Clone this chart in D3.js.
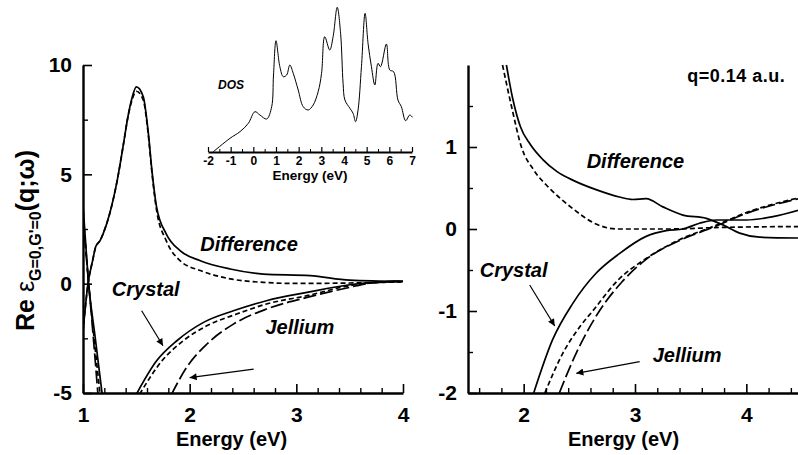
<!DOCTYPE html>
<html><head><meta charset="utf-8">
<script src="https://cdn.jsdelivr.net/npm/d3@7"></script>
<style>
body{margin:0;background:#fff}
svg{display:block}
text{font-family:"Liberation Sans",Arial,Helvetica,sans-serif;font-weight:bold;fill:#000}
</style></head>
<body>
<svg id="chart" width="798" height="455"></svg>
<script>
// ---------- DATA (energy eV, Re epsilon) ----------
// Left panel
const leftCrystalLow   = [[1.0,3.6],[1.02,2.2],[1.053,0],[1.11,-2.3],[1.18,-5.06]];
const leftCrystalDLow  = [[1.0,3.3],[1.053,0],[1.10,-2.3],[1.16,-5.06]];
const leftJelliumLow   = [[1.0,3.0],[1.053,0],[1.094,-2.3],[1.14,-5.06]];
const leftDiffSolid = [[1.0,-2.2],[1.047,0],[1.09,1.05],[1.12,1.7],[1.16,1.97],[1.19,2.3],[1.25,3.2],[1.32,4.7],[1.38,6.4],[1.42,7.6],[1.46,8.5],[1.50,9.0],[1.565,8.55],[1.61,7.0],[1.65,5.0],[1.69,3.5],[1.78,2.28],[1.91,1.51],[2.10,1.05],[2.38,0.67],[2.69,0.44],[3.13,0.37],[3.5,0.16],[4.0,0.1]];
const leftDiffDash  = [[1.0,-2.2],[1.047,0],[1.09,1.05],[1.12,1.7],[1.16,1.97],[1.19,2.3],[1.25,3.2],[1.32,4.7],[1.38,6.4],[1.42,7.6],[1.46,8.4],[1.50,8.8],[1.565,8.4],[1.61,6.9],[1.65,4.9],[1.69,3.35],[1.78,1.97],[1.91,1.05],[2.10,0.6],[2.38,0.22],[2.69,0.06],[3.0,0.01],[3.5,0.03],[4.0,0.08]];
const leftCrystal   = [[1.50,-5.06],[1.69,-3.53],[1.88,-2.61],[2.13,-1.77],[2.41,-1.24],[2.72,-0.78],[3.10,-0.40],[3.50,-0.05],[3.7,0.05],[4.0,0.12]];
const leftCrystalD  = [[1.53,-5.06],[1.74,-3.53],[1.94,-2.61],[2.16,-1.93],[2.44,-1.39],[2.72,-0.93],[3.10,-0.55],[3.50,-0.09],[3.7,0.03],[4.0,0.1]];
const leftJellium   = [[1.83,-5.06],[1.97,-3.84],[2.16,-2.77],[2.41,-1.85],[2.72,-1.16],[3.10,-0.63],[3.50,-0.17],[3.7,0.03],[4.0,0.12]];
// Right panel (q = 0.14 a.u.)
const rightDiffSolid = [[1.845,2.0],[1.90,1.6],[1.97,1.25],[2.06,1.03],[2.17,0.85],[2.30,0.70],[2.45,0.59],[2.65,0.48],[2.86,0.39],[2.98,0.36],[3.10,0.37],[3.25,0.27],[3.43,0.17],[3.64,0.13],[3.79,0.05],[3.94,-0.05],[4.12,-0.10],[4.5,-0.11]];
const rightDiffDash  = [[1.81,2.0],[1.89,1.5],[1.98,1.0],[2.09,0.72],[2.23,0.5],[2.44,0.25],[2.65,0.06],[2.85,0.0],[3.3,0.0],[3.8,0.02],[4.5,0.03]];
const rightCrystal   = [[2.09,-2.0],[2.26,-1.35],[2.44,-0.91],[2.65,-0.54],[2.86,-0.30],[3.10,-0.09],[3.28,-0.02],[3.43,0.0],[3.58,0.07],[3.73,0.11],[4.0,0.11],[4.24,0.15],[4.5,0.24]];
const rightCrystalD  = [[2.19,-2.0],[2.35,-1.52],[2.50,-1.2],[2.62,-1.0],[2.85,-0.62],[3.10,-0.36],[3.40,-0.13],[3.70,0.03],[4.0,0.2],[4.5,0.39]];
const rightJellium   = [[2.32,-2.0],[2.47,-1.52],[2.68,-1.0],[2.88,-0.65],[3.10,-0.37],[3.40,-0.14],[3.70,0.02],[4.0,0.19],[4.5,0.38]];
// Inset: density of states (arb. units)
const dosE = [-1.78,-1.03,-0.59,-0.22,0.07,0.29,0.59,0.81,0.89,1.0,1.17,1.32,1.47,1.61,1.76,1.98,2.2,2.42,2.64,2.86,3.01,3.15,3.37,3.52,3.70,3.85,3.96,4.04,4.26,4.40,4.51,4.62,4.77,4.93,5.06,5.21,5.36,5.50,5.61,5.87,6.02,6.19,6.38,6.53,6.72,6.90,7.02];
const dosV = [0,1.37,2.03,2.87,4.03,3.7,3.3,4.53,7.7,11.13,8.53,7.53,7.7,8.7,7.87,6.2,4.53,4.2,4.7,6.03,7.87,11.53,10.2,11.53,14.47,11.87,6.87,5.2,4.37,3.87,3.03,4.2,8.53,13.87,10.87,8.53,6.7,8.87,8.53,10.8,8.2,8.03,5.2,4.53,3.13,3.7,3.47];
// Ticks
const leftXTicks = [1,2,3,4], leftYTicks = [-5,0,5,10], leftYMinor = [-2.5,2.5,7.5];
const rightXTicks = [2,3,4], rightYTicks = [-2,-1,0,1], rightYMinor = [-1.5,-0.5,0.5,1.5];
const insetTicks = [-2,-1,0,1,2,3,4,5,6,7];

// ---------- SCALES ----------
const svg = d3.select("#chart");
const xL = d3.scaleLinear([1,4],[83,403]);
const yL = d3.scaleLinear([-5,10],[393,65]);
const xR = d3.scaleLinear([1.5,4.5],[468,802]);
const yR = d3.scaleLinear([-2,2],[393,65]);
const xI = d3.scaleLinear([-2,7],[208,412]);
const yI = d3.scaleLinear([0,15],[152,2]);
const fmt = d => String(d);

const defs = svg.append("defs");
defs.append("clipPath").attr("id","clipL").append("rect").attr("x",83).attr("y",0).attr("width",321).attr("height",393);
defs.append("clipPath").attr("id","clipR").append("rect").attr("x",468).attr("y",60).attr("width",340).attr("height",333);
defs.append("marker").attr("id","arrow").attr("viewBox","0 0 10 10").attr("refX",10).attr("refY",5)
  .attr("markerWidth",11).attr("markerHeight",7).attr("markerUnits","userSpaceOnUse").attr("orient","auto")
  .append("path").attr("d","M0,0L10,5L0,10z").attr("fill","#000");

const styles = {solid:null, short:"5,3", long:"13,4"};
function curve(g, data, x, y, dash, w){
  g.append("path").datum(data)
   .attr("d", d3.line().x(d=>x(d[0])).y(d=>y(d[1])).curve(d3.curveMonotoneX))
   .attr("fill","none").attr("stroke","#000").attr("stroke-width",w||1.7)
   .attr("stroke-dasharray",dash);
}
function minorRange(a,b,step,skip){const r=[];for(let v=a;v<=b+1e-9;v+=step){const q=Math.round(v*100)/100;if(!skip.some(s=>Math.abs(s-q)<1e-6))r.push(q);}return r;}

function axes(x,y,xt,yt,ym,xMinor,bottom,left){
  svg.append("g").attr("transform",`translate(0,${bottom})`)
    .call(d3.axisBottom(x).tickValues(xMinor).tickSize(-5).tickFormat(""))
    .call(g=>g.select(".domain").remove()).selectAll("line").attr("stroke-width",1.4);
  svg.append("g").attr("transform",`translate(${left},0)`)
    .call(d3.axisLeft(y).tickValues(ym).tickSize(-5).tickFormat(""))
    .call(g=>g.select(".domain").remove()).selectAll("line").attr("stroke-width",1.4);
  const gx = svg.append("g").attr("transform",`translate(0,${bottom})`)
    .call(d3.axisBottom(x).tickValues(xt).tickSize(-9).tickSizeOuter(0).tickPadding(14).tickFormat(fmt));
  const gy = svg.append("g").attr("transform",`translate(${left},0)`)
    .call(d3.axisLeft(y).tickValues(yt).tickSize(-9).tickSizeOuter(0).tickPadding(11).tickFormat(fmt));
  [gx,gy].forEach(g=>{
    g.select(".domain").attr("stroke-width",2.4);
    g.selectAll(".tick line").attr("stroke-width",1.6);
    g.selectAll("text").style("font-size","21px").style("font-family","Liberation Sans, Arial, sans-serif").style("font-weight","bold");
  });
  gx.selectAll("text").attr("dy","0.72em");
}

// ---------- LEFT PANEL ----------
axes(xL,yL,leftXTicks,leftYTicks,leftYMinor,minorRange(1.2,3.8,0.2,leftXTicks),393,83);
const gL = svg.append("g").attr("clip-path","url(#clipL)");
curve(gL,leftCrystalLow,xL,yL,styles.solid);
curve(gL,leftCrystalDLow,xL,yL,styles.short);
curve(gL,leftJelliumLow,xL,yL,styles.long);
curve(gL,leftDiffSolid,xL,yL,styles.solid);
curve(gL,leftDiffDash,xL,yL,styles.short);
curve(gL,leftCrystal,xL,yL,styles.solid);
curve(gL,leftCrystalD,xL,yL,styles.short);
curve(gL,leftJellium,xL,yL,styles.long);

function label(txt,x,y,size,italic){
  return svg.append("text").attr("x",x).attr("y",y).text(txt)
    .style("font-size",size+"px").style("font-style",italic?"italic":"normal");
}
function arrow(x1,y1,x2,y2){
  svg.append("line").attr("x1",x1).attr("y1",y1).attr("x2",x2).attr("y2",y2)
    .attr("stroke","#000").attr("stroke-width",1.2).attr("marker-end","url(#arrow)");
}
label("Difference",xL(2.10),yL(1.51),20,true);
label("Crystal",xL(1.27),yL(-0.55),20,true);
arrow(xL(1.55),yL(-1.24),xL(1.75),yL(-2.84));
label("Jellium",xL(2.71),yL(-2.29),20,true);
arrow(xL(2.60),yL(-3.91),xL(2.0),yL(-4.30));

label("Energy (eV)",231.5,446,20,false).attr("text-anchor","middle");

// Y label
const yl = svg.append("text").attr("transform","translate(34,331) rotate(-90)").style("font-size","25px");
yl.append("tspan").text("Re ");
yl.append("tspan").text("ε").style("font-weight","normal");
yl.append("tspan").text("G=0,G'=0").style("font-size","16px").attr("dy",7);
yl.append("tspan").text("(q;ω)").attr("dy",-7);

// ---------- INSET (DOS) ----------
const dos = dosE.map((e,i)=>[e,dosV[i]]);
svg.append("path").datum(dos)
  .attr("d",d3.line().x(d=>xI(d[0])).y(d=>yI(d[1])).curve(d3.curveCatmullRom.alpha(0.5)))
  .attr("fill","none").attr("stroke","#000").attr("stroke-width",1);
svg.append("g").attr("transform","translate(0,152)")
  .call(d3.axisBottom(xI).tickValues(minorRange(-1.5,6.5,1,[])).tickSize(-3).tickFormat(""))
  .call(g=>g.select(".domain").remove()).selectAll("line").attr("stroke-width",1);
const gi = svg.append("g").attr("transform","translate(0,152)")
  .call(d3.axisBottom(xI).tickValues(insetTicks).tickSize(-5).tickSizeOuter(0).tickPadding(4).tickFormat(fmt));
gi.select(".domain").attr("stroke-width",1.8);
gi.selectAll(".tick line").attr("stroke-width",1.2);
gi.selectAll("text").style("font-size","12px").style("font-family","Liberation Sans, Arial, sans-serif").style("font-weight","bold").attr("dy","0.72em");
label("Energy (eV)",xI(2.5),180,13.5,false).attr("text-anchor","middle");
label("DOS",xI(-1.56),yI(6.3),12,true);

// ---------- RIGHT PANEL ----------
axes(xR,yR,rightXTicks,rightYTicks,rightYMinor,minorRange(1.6,4.4,0.2,rightXTicks),393,468);
const gR = svg.append("g").attr("clip-path","url(#clipR)");
curve(gR,rightDiffSolid,xR,yR,styles.solid);
curve(gR,rightDiffDash,xR,yR,styles.short);
curve(gR,rightCrystal,xR,yR,styles.solid);
curve(gR,rightCrystalD,xR,yR,styles.short);
curve(gR,rightJellium,xR,yR,styles.long);

label("q=0.14 a.u.",xR(3.47),yR(1.79),18,false).style("letter-spacing","0.5px");
label("Difference",xR(2.566),yR(0.744),20,true);
label("Crystal",xR(1.605),yR(-0.585),20,true);
arrow(xR(2.054),yR(-0.683),xR(2.279),yR(-1.183));
label("Jellium",xR(3.159),yR(-1.622),20,true);
arrow(xR(3.042),yR(-1.618),xR(2.473),yR(-1.76));
label("Energy (eV)",623.5,446,20,false).attr("text-anchor","middle");
</script>
</body></html>
